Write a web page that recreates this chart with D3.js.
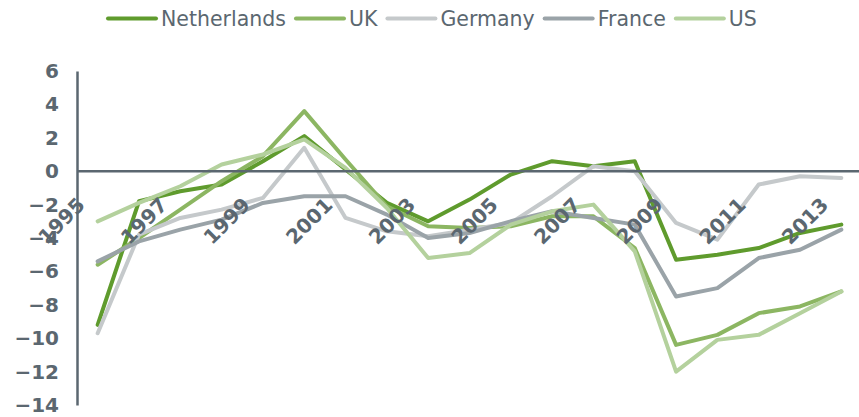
<!DOCTYPE html>
<html><head><meta charset="utf-8">
<script src="https://cdn.jsdelivr.net/npm/d3@7"></script>
<style>
html,body{margin:0;padding:0;background:#fff;}
svg{display:block;font-family:"DejaVu Sans",Verdana,sans-serif;}
</style></head>
<body>
<svg id="chart" width="859" height="417"></svg>
<script>
const years = [1995,1996,1997,1998,1999,2000,2001,2002,2003,2004,2005,2006,2007,2008,2009,2010,2011,2012,2013];
const tickYears = [1995,1997,1999,2001,2003,2005,2007,2009,2011,2013];
const yTicks = [6,4,2,0,-2,-4,-6,-8,-10,-12,-14];
const seriesNames = ["Netherlands","UK","Germany","France","US"];
const seriesColors = ["#5f9b2d","#8cb662","#c5c9cb","#9aa3a8","#b4d19d"];
const netherlands = [-9.2,-1.8,-1.2,-0.8,0.6,2.1,0.1,-1.9,-3.0,-1.7,-0.2,0.6,0.3,0.6,-5.3,-5.0,-4.6,-3.7,-3.2];
const uk          = [-5.6,-4.0,-2.3,-0.6,0.9,3.6,0.7,-2.1,-3.3,-3.4,-3.3,-2.7,-2.7,-4.6,-10.4,-9.8,-8.5,-8.1,-7.2];
const germany     = [-9.7,-3.8,-2.8,-2.3,-1.6,1.4,-2.8,-3.6,-3.9,-3.5,-3.1,-1.5,0.3,0.0,-3.1,-4.1,-0.8,-0.3,-0.4];
const france      = [-5.4,-4.2,-3.5,-2.9,-1.9,-1.5,-1.5,-2.6,-4.0,-3.7,-3.0,-2.4,-2.8,-3.2,-7.5,-7.0,-5.2,-4.7,-3.5];
const us          = [-3.0,-1.9,-0.9,0.4,1.0,1.9,0.2,-2.2,-5.2,-4.9,-3.2,-2.4,-2.0,-4.8,-12.0,-10.1,-9.8,-8.5,-7.2];
const seriesValues = [netherlands, uk, germany, france, us];

const textColor = "#5b6770";
const svg = d3.select("#chart");

const x = d3.scaleBand().domain(years).range([77, 862]);
const y = d3.scaleLinear().domain([-14, 6]).range([405, 71]);
const cx = d => x(d) + x.bandwidth()/2;

// series
const line = d3.line().x((d,i) => cx(years[i])).y(d => y(d));
seriesValues.forEach((vals, k) => {
  svg.append("path").datum(vals)
    .attr("d", line)
    .attr("fill", "none")
    .attr("stroke", seriesColors[k])
    .attr("stroke-width", 4)
    .attr("stroke-linejoin", "round")
    .attr("stroke-linecap", "round");
});

// Y axis
const yAxis = d3.axisLeft(y).tickValues(yTicks).tickSize(0).tickPadding(18).tickFormat(d3.format("d"));
const yg = svg.append("g").attr("transform", "translate(77,0)").call(yAxis);
yg.select(".domain").attr("stroke", textColor).attr("stroke-width", 2.5);
yg.selectAll("text").attr("fill", textColor).attr("font-size", "20px").attr("font-weight", "bold")
  .attr("font-family", "DejaVu Sans, Verdana, sans-serif");

// zero line (category axis)
const xAxis = d3.axisBottom(x).tickValues(tickYears).tickSize(0).tickPadding(0);
const xg = svg.append("g").attr("transform", `translate(0,${y(0)})`).call(xAxis);
xg.select(".domain").attr("stroke", textColor).attr("stroke-width", 2.5)
  .attr("d", `M77,0H859`);
xg.selectAll(".tick text")
  .attr("fill", textColor).attr("font-size", "20px").attr("font-weight", "bold")
  .attr("font-family", "DejaVu Sans, Verdana, sans-serif")
  .attr("text-anchor", "end")
  .attr("dy", null).attr("y", null)
  .attr("transform", `translate(${-x.bandwidth()/2 + 9}, 35) rotate(-45)`);

// legend
const leg = svg.append("g").attr("class", "legend");
let lx = 108;
seriesNames.forEach((name, k) => {
  leg.append("line").attr("x1", lx).attr("x2", lx + 48).attr("y1", 18.5).attr("y2", 18.5)
    .attr("stroke", seriesColors[k]).attr("stroke-width", 4).attr("stroke-linecap", "round");
  const t = leg.append("text").attr("x", lx + 53).attr("y", 25.5)
    .attr("fill", textColor).attr("font-size", "20.5px").text(name);
  lx += 53 + t.node().getComputedTextLength() + 10;
});
</script>
</body></html>
